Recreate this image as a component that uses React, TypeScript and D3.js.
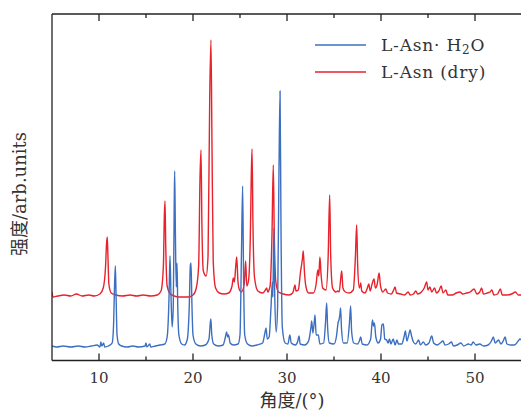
import { useMemo } from 'react';
import * as d3 from 'd3';

// 2θ (deg), intensity above own baseline (a.u.)
const hydrate: [number, number][] = [
  [5.0, 1], [5.5, 0], [6.2, 1], [7.0, 0], [7.8, 1], [8.5, 0], [9.2, 1], [9.8, 2], [10.1, 0], [10.2, 5], [10.3, 1],
  [10.5, 4], [10.6, 0], [11.0, 1], [11.4, 4], [11.55, 22], [11.65, 60], [11.74, 81], [11.82, 50], [11.92, 12],
  [12.1, 3], [12.4, 1], [13.0, 0], [13.6, 1], [14.2, 0], [14.9, 1], [15.0, 4], [15.1, 0], [15.4, 3], [15.5, 0],
  [16.0, 1], [16.5, 2], [17.0, 3], [17.25, 10], [17.45, 50], [17.55, 91], [17.65, 55], [17.78, 20], [17.9, 40],
  [18.0, 140], [18.05, 176], [18.12, 120], [18.22, 60], [18.3, 84], [18.38, 40], [18.5, 12], [18.8, 3], [19.1, 2],
  [19.4, 8], [19.6, 40], [19.72, 82], [19.79, 84], [19.88, 45], [20.0, 12], [20.3, 3], [20.8, 1], [21.3, 2],
  [21.7, 8], [21.85, 25], [21.9, 28], [22.0, 12], [22.2, 3], [22.7, 1], [23.2, 2], [23.45, 10], [23.58, 15],
  [23.68, 10], [23.78, 12], [23.95, 4], [24.3, 2], [24.8, 3], [25.0, 12], [25.15, 90], [25.28, 161], [25.38, 70],
  [25.5, 12], [25.8, 3], [26.3, 1], [26.8, 2], [27.4, 4], [27.65, 14], [27.77, 19], [27.9, 8], [28.1, 10],
  [28.3, 40], [28.44, 65], [28.5, 50], [28.6, 119], [28.7, 50], [28.85, 15], [29.0, 40], [29.15, 180],
  [29.26, 256], [29.36, 120], [29.5, 20], [29.8, 4], [30.1, 3], [30.3, 12], [30.45, 4], [30.9, 2], [31.15, 6],
  [31.28, 11], [31.4, 3], [31.9, 2], [32.3, 6], [32.55, 20], [32.63, 26], [32.75, 14], [32.9, 25], [32.98, 32],
  [33.1, 12], [33.33, 12], [33.5, 3], [33.9, 4], [34.1, 25], [34.22, 44], [34.32, 20], [34.5, 4], [35.0, 3],
  [35.25, 10], [35.45, 25], [35.53, 27], [35.62, 32], [35.7, 39], [35.8, 18], [36.0, 4], [36.4, 4], [36.65, 25],
  [36.77, 41], [36.88, 15], [37.1, 4], [37.5, 3], [37.7, 6], [37.84, 10], [38.0, 3], [38.5, 2], [38.9, 8],
  [39.05, 24], [39.1, 27], [39.2, 21], [39.3, 24], [39.45, 10], [39.7, 4], [39.95, 8], [40.1, 22], [40.25, 23],
  [40.4, 8], [40.6, 7], [40.75, 4], [40.9, 8], [41.05, 3], [41.3, 8], [41.5, 2], [41.7, 7], [41.85, 3], [42.2, 3],
  [42.45, 10], [42.6, 16], [42.75, 6], [42.95, 12], [43.1, 17], [43.25, 11], [43.45, 5], [43.7, 3], [44.0, 7],
  [44.2, 2], [44.5, 5], [44.75, 2], [45.1, 4], [45.4, 11], [45.6, 4], [46.0, 2], [46.3, 4], [46.6, 6], [46.8, 2],
  [47.2, 3], [47.5, 5], [47.7, 1], [48.1, 2], [48.5, 4], [48.8, 1], [49.3, 3], [49.6, 2], [49.8, 5], [50.1, 2],
  [50.5, 3], [50.9, 1], [51.4, 2], [51.75, 6], [51.95, 10], [52.15, 4], [52.5, 7], [52.75, 3], [53.0, 6],
  [53.2, 10], [53.4, 3], [53.8, 2], [54.2, 2], [54.6, 6], [54.8, 8], [55.0, 6],
];

const dry: [number, number][] = [
  [5.0, 4], [5.1, -1], [5.6, 0], [6.3, 1], [7.0, 0], [7.6, 2], [8.2, 0], [8.9, 1], [9.5, 0], [10.1, 2],
  [10.45, 8], [10.7, 30], [10.8, 52], [10.88, 59], [10.95, 40], [11.05, 12], [11.3, 3], [11.8, 1], [12.5, 0],
  [13.3, 1], [14.0, 0], [14.7, 1], [15.5, 0], [16.2, 1], [16.6, 5], [16.85, 30], [16.95, 80], [17.02, 95],
  [17.1, 50], [17.25, 10], [17.6, 2], [18.0, 0], [18.5, -1], [19.0, -1], [19.5, -1], [20.0, 1], [20.35, 8],
  [20.6, 30], [20.75, 120], [20.85, 146], [20.95, 70], [21.1, 25], [21.4, 20], [21.6, 40], [21.78, 200],
  [21.91, 256], [22.02, 150], [22.15, 35], [22.4, 8], [22.8, 3], [23.3, 2], [23.8, 3], [24.15, 10], [24.29, 18],
  [24.4, 14], [24.55, 30], [24.65, 39], [24.78, 15], [24.95, 6], [25.15, 4], [25.45, 12], [25.6, 35], [25.72, 10],
  [25.9, 15], [26.1, 60], [26.2, 120], [26.28, 147], [26.38, 70], [26.55, 18], [26.9, 5], [27.4, 3], [27.7, 6],
  [27.84, 8], [27.95, 4], [28.2, 10], [28.4, 60], [28.54, 131], [28.65, 60], [28.8, 15], [29.1, 4], [29.6, 2],
  [30.2, 1], [30.6, 3], [30.78, 9], [30.85, 11], [30.95, 5], [31.2, 6], [31.45, 25], [31.55, 31], [31.65, 38],
  [31.73, 45], [31.85, 25], [32.0, 10], [32.3, 3], [32.8, 3], [33.1, 12], [33.28, 26], [33.38, 20], [33.5, 39],
  [33.62, 22], [33.8, 8], [34.15, 6], [34.38, 40], [34.54, 101], [34.65, 40], [34.85, 8], [35.2, 4], [35.4, 5],
  [35.55, 4], [35.72, 18], [35.82, 25], [35.95, 8], [36.2, 4], [36.6, 3], [37.05, 6], [37.28, 40], [37.41, 71],
  [37.52, 30], [37.7, 8], [37.84, 13], [37.95, 5], [38.3, 3], [38.55, 8], [38.7, 12], [38.85, 5], [39.05, 12],
  [39.26, 17], [39.4, 8], [39.6, 12], [39.8, 23], [39.95, 10], [40.2, 4], [40.5, 7], [40.7, 3], [41.1, 2],
  [41.35, 6], [41.5, 9], [41.65, 3], [42.1, 2], [42.5, 1], [42.9, 4], [43.1, 1], [43.45, 2], [43.7, 5], [43.9, 2],
  [44.3, 4], [44.6, 8], [44.86, 14], [45.0, 6], [45.2, 9], [45.4, 4], [45.7, 8], [45.9, 3], [46.15, 5], [46.4, 10],
  [46.6, 3], [46.9, 6], [47.1, 1], [47.6, 1], [48.0, 3], [48.4, 4], [48.7, 2], [49.1, 3], [49.5, 4], [49.9, 7],
  [50.2, 2], [50.5, 4], [50.7, 8], [50.9, 2], [51.3, 3], [51.6, 4], [51.8, 6], [52.0, 1], [52.4, 2], [52.7, 7],
  [52.9, 1], [53.4, 1], [53.9, 2], [54.3, 4], [54.6, 1], [55.0, 1],
];

const dryOffset = 51;
const majorTicks = [10, 20, 30, 40, 50];
const minorTicks = [15, 25, 35, 45];

const blue = '#3d6fc0';
const red = '#e8212b';
const serif = '"DejaVu Serif", "Liberation Serif", serif';
const cjk = '"DejaVu Serif", "Noto Sans CJK SC", serif';

export default function App() {
  const width = 521;
  const height = 411;
  const left = 52;
  const top = 14;
  const bottom = 360.5;

  const x = useMemo(() => d3.scaleLinear().domain([5, 55]).range([left, left + 470]), []);
  const y = useMemo(() => d3.scaleLinear().domain([-13.5, 333]).range([bottom, top]), []);

  const line = d3
    .line<[number, number]>()
    .x((d) => x(d[0]))
    .curve(d3.curveMonotoneX);

  const bluePath = line.y((d) => y(d[1]))(hydrate) || '';
  const redPath = line.y((d) => y(d[1] + dryOffset))(dry) || '';

  return (
    <svg width={width} height={height} style={{ position: 'absolute', left: 0, top: 0, background: '#fff' }}>
      <defs>
        <clipPath id="plot">
          <rect x={left} y={top} width={width - left} height={bottom - top} />
        </clipPath>
      </defs>

      <g clipPath="url(#plot)" fill="none" strokeWidth={1.4} strokeLinejoin="round">
        <path d={redPath} stroke={red} />
        <path d={bluePath} stroke={blue} />
      </g>

      {/* frame */}
      <g stroke="#222" strokeWidth={1.3} fill="none">
        <line x1={left} x2={width} y1={top} y2={top} />
        <line x1={left} x2={width} y1={bottom} y2={bottom} />
        <line x1={left} x2={left} y1={top} y2={bottom} />
        {majorTicks.map((t) => (
          <g key={`M${t}`}>
            <line x1={x(t)} x2={x(t)} y1={bottom} y2={bottom - 7} />
            <line x1={x(t)} x2={x(t)} y1={top} y2={top + 7} />
          </g>
        ))}
        {minorTicks.map((t) => (
          <g key={`m${t}`}>
            <line x1={x(t)} x2={x(t)} y1={bottom} y2={bottom - 4} />
            <line x1={x(t)} x2={x(t)} y1={top} y2={top + 4} />
          </g>
        ))}
      </g>

      <g fontFamily={serif} fontSize={15} fill="#333" textAnchor="middle">
        {majorTicks.map((t) => (
          <text key={t} x={x(t)} y={383}>
            {t}
          </text>
        ))}
      </g>

      <text x={292} y={407} textAnchor="middle" fontFamily={cjk} fontSize={18} fill="#333">
        角度/(°)
      </text>
      <text
        transform="translate(26,194) rotate(-90)"
        textAnchor="middle"
        fontFamily={cjk}
        fontSize={18}
        fill="#333"
      >
        强度/arb.units
      </text>

      {/* legend */}
      <g fontFamily={serif} fontSize={17} letterSpacing={0.8} fill="#333">
        <line x1={315} x2={366} y1={45} y2={45} stroke={blue} strokeWidth={1.4} />
        <text x={381} y={51}>
          L-Asn· H<tspan fontSize={12} dy={3}>2</tspan>
          <tspan dy={-3}>O</tspan>
        </text>
        <line x1={315} x2={366} y1={72} y2={72} stroke={red} strokeWidth={1.4} />
        <text x={381} y={78}>L-Asn (dry)</text>
      </g>
    </svg>
  );
}
